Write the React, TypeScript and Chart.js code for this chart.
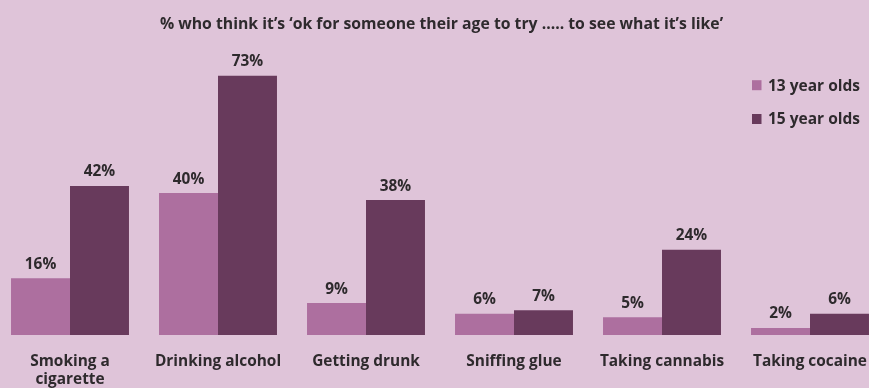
import React, { useEffect, useRef } from "react";
import { Chart, registerables } from "chart.js";

Chart.register(...registerables);

const categories: (string | string[])[] = [
  ["Smoking a", "cigarette"],
  "Drinking alcohol",
  "Getting drunk",
  "Sniffing glue",
  "Taking cannabis",
  "Taking cocaine",
];
const age13 = [16, 40, 9, 6, 5, 2];
const age15 = [42, 73, 38, 7, 24, 6];
const seriesLabels = ["13 year olds", "15 year olds"];
const titleText = "% who think it\u2019s \u2018ok for someone their age to try ..... to see what it\u2019s like\u2019";

const FONT = "'Open Sans', sans-serif";
const TEXT = "#2e2a2d";
const BG = "#dfc4d9";
const C13 = "#ad6f9f";
const C15 = "#683a5c";

function drawText(ctx: CanvasRenderingContext2D, text: string, x: number, y: number, align: CanvasTextAlign, sx: number) {
  ctx.save();
  ctx.translate(x, y);
  ctx.scale(sx, 1);
  ctx.textAlign = align;
  ctx.textBaseline = "alphabetic";
  ctx.fillText(text, 0, 0);
  ctx.restore();
}

const textPlugin = {
  id: "textPlugin",
  afterDraw(chart: any) {
    const ctx: CanvasRenderingContext2D = chart.ctx;
    ctx.save();
    ctx.fillStyle = TEXT;

    // title
    ctx.font = `bold 16.8px ${FONT}`;
    drawText(ctx, titleText, chart.width / 2 + 1.5, 29.3, "center", 0.94);

    // value labels
    ctx.font = `bold 16.4px ${FONT}`;
    chart.data.datasets.forEach((ds: any, di: number) => {
      const meta = chart.getDatasetMeta(di);
      meta.data.forEach((el: any, i: number) => {
        drawText(ctx, ds.data[i] + "%", el.x, el.y - 9.5, "center", 0.94);
      });
    });

    // category labels
    const xs = chart.scales.x;
    const base = chart.chartArea.bottom;
    chart.data.labels.forEach((lab: any, i: number) => {
      const lines = Array.isArray(lab) ? lab : [lab];
      const x = xs.getPixelForTick(i);
      lines.forEach((ln: string, j: number) => {
        drawText(ctx, ln, x, base + 30.5 + j * 18.5, "center", 0.94);
      });
    });

    // legend
    const lx = 756;
    const ly = [90.5, 124.3];
    ctx.font = `bold 15.5px ${FONT}`;
    chart.data.datasets.forEach((ds: any, di: number) => {
      ctx.fillStyle = ds.backgroundColor;
      ctx.fillRect(lx, ly[di] - 10.3, 9.5, 10);
      ctx.fillStyle = TEXT;
      drawText(ctx, ds.label, lx + 16, ly[di], "left", 1);
    });
    ctx.restore();
  },
};

export default function App() {
  const ref = useRef<HTMLCanvasElement>(null);
  useEffect(() => {
    document.body.style.margin = "0";
    document.body.style.overflow = "hidden";
    const chart = new Chart(ref.current!, {
      type: "bar",
      data: {
        labels: categories,
        datasets: [
          { label: seriesLabels[0], data: age13, backgroundColor: C13 },
          { label: seriesLabels[1], data: age15, backgroundColor: C15 },
        ],
      },
      options: {
        responsive: false,
        animation: false,
        layout: { padding: { top: 51, bottom: 0, left: 0, right: 0 } },
        datasets: { bar: { categoryPercentage: 0.797, barPercentage: 1 } },
        plugins: {
          legend: { display: false },
          tooltip: { enabled: false },
          title: { display: false },
        },
        scales: {
          x: {
            grid: { display: false, drawTicks: false },
            border: { display: false },
            afterFit: (scale: any) => {
              scale.height = 53;
            },
            ticks: { display: false },
          },
          y: {
            display: false,
            min: 0,
            max: 80,
          },
        },
      },
      plugins: [textPlugin],
    });
    return () => chart.destroy();
  }, []);
  return (
    <div
      style={{
        position: "fixed",
        left: 0,
        top: 0,
        width: 869,
        height: 388,
        overflow: "hidden",
        background: BG,
      }}
    >
      <div style={{ position: "absolute", left: -4, top: 0, width: 888, height: 388 }}>
        <canvas ref={ref} width={888} height={388} />
      </div>
    </div>
  );
}
